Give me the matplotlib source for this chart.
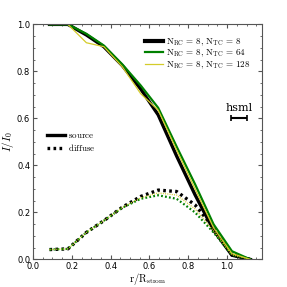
import numpy as np
import matplotlib
matplotlib.use('Agg')
import matplotlib.pyplot as plt
from matplotlib.ticker import MultipleLocator
from matplotlib.lines import Line2D

plt.rcParams['mathtext.fontset'] = 'cm'
plt.rcParams['font.size'] = 6

# radial grid (r / R_strom)
r = [0.085, 0.18, 0.275, 0.365, 0.46, 0.555, 0.645, 0.74, 0.835, 0.93, 1.025, 1.12]

# source intensity
src_8 = [1.0, 1.0, 0.955, 0.905, 0.825, 0.725, 0.615, 0.44, 0.275, 0.125, 0.018, 0.0]
src_64 = [1.0, 1.0, 0.96, 0.91, 0.83, 0.74, 0.645, 0.48, 0.32, 0.15, 0.035, 0.0]
src_128 = [1.0, 1.0, 0.922, 0.905, 0.82, 0.705, 0.635, 0.465, 0.30, 0.135, 0.025, 0.0]

# diffuse intensity
dif_8 = [0.042, 0.045, 0.115, 0.165, 0.222, 0.268, 0.295, 0.289, 0.232, 0.135, 0.02, 0.0]
dif_64 = [0.042, 0.045, 0.115, 0.165, 0.22, 0.258, 0.273, 0.258, 0.20, 0.115, 0.02, 0.0]
dif_128 = [0.042, 0.045, 0.115, 0.165, 0.221, 0.262, 0.283, 0.274, 0.215, 0.122, 0.02, 0.0]

labels = [r'$\rm N_{RC}\,=\,8,\,N_{TC}\,=\,8$',
          r'$\rm N_{RC}\,=\,8,\,N_{TC}\,=\,64$',
          r'$\rm N_{RC}\,=\,8,\,N_{TC}\,=\,128$']
colors = ['black', 'green', '#d4cc2a']
widths = [2.4, 1.6, 0.9]

hsml_x = 1.06
hsml_y = 0.6
hsml_w = 0.04

fig = plt.figure(figsize=(2.87, 2.87), dpi=100)
ax = fig.add_axes([0.115, 0.096, 0.798, 0.819])

handles = []
for s, d, c, w, lab in zip([src_8, src_64, src_128], [dif_8, dif_64, dif_128], colors, widths, labels):
    ax.plot(r, s, color=c, lw=w, solid_joinstyle='miter')
    ax.plot(r, d, color=c, lw=w, linestyle=(0, (0.8, 1.0)))
    handles.append(Line2D([], [], color=c, lw=w + 0.6 if c == 'black' else w, label=lab))

ax.errorbar([hsml_x], [hsml_y], xerr=[hsml_w], color='black', lw=1.5, capsize=2.5, capthick=1.2)
ax.text(hsml_x, hsml_y + 0.025, 'hsml', ha='center', va='bottom', fontsize=8, fontname='DejaVu Serif')

leg1 = ax.legend(handles=handles, loc='upper right', frameon=False, fontsize=6.5,
                 handlelength=2.0, handletextpad=0.3, labelspacing=0.0,
                 bbox_to_anchor=(0.985, 0.985))
ax.add_artist(leg1)
style_h = [Line2D([], [], color='black', lw=2.4, label=r'$\rm source$'),
           Line2D([], [], color='black', lw=2.4, linestyle=(0, (0.8, 1.0)), label=r'$\rm diffuse$')]
ax.legend(handles=style_h, loc='center left', frameon=False, fontsize=6.5,
          handlelength=2.0, handletextpad=0.3, labelspacing=0.2,
          bbox_to_anchor=(0.025, 0.5))

ax.set_xlim(0, 1.18)
ax.set_ylim(0, 1.0)
ax.xaxis.set_major_locator(MultipleLocator(0.2))
ax.xaxis.set_minor_locator(MultipleLocator(0.05))
ax.yaxis.set_major_locator(MultipleLocator(0.2))
ax.yaxis.set_minor_locator(MultipleLocator(0.05))
ax.tick_params(which='both', direction='in', top=True, right=True, colors='#555555',
               labelcolor='black', labelsize=6, pad=2)
ax.tick_params(which='major', length=3)
ax.tick_params(which='minor', length=1.5)
for sp in ax.spines.values():
    sp.set_color('#555555')
    sp.set_linewidth(0.8)

ax.set_xlabel(r'$\rm r/R_{strom}$', fontsize=7.5, labelpad=-0.5)
ax.set_ylabel(r'$I/I_0$', fontsize=8, labelpad=1)

fig.savefig('out.png', dpi=100)
